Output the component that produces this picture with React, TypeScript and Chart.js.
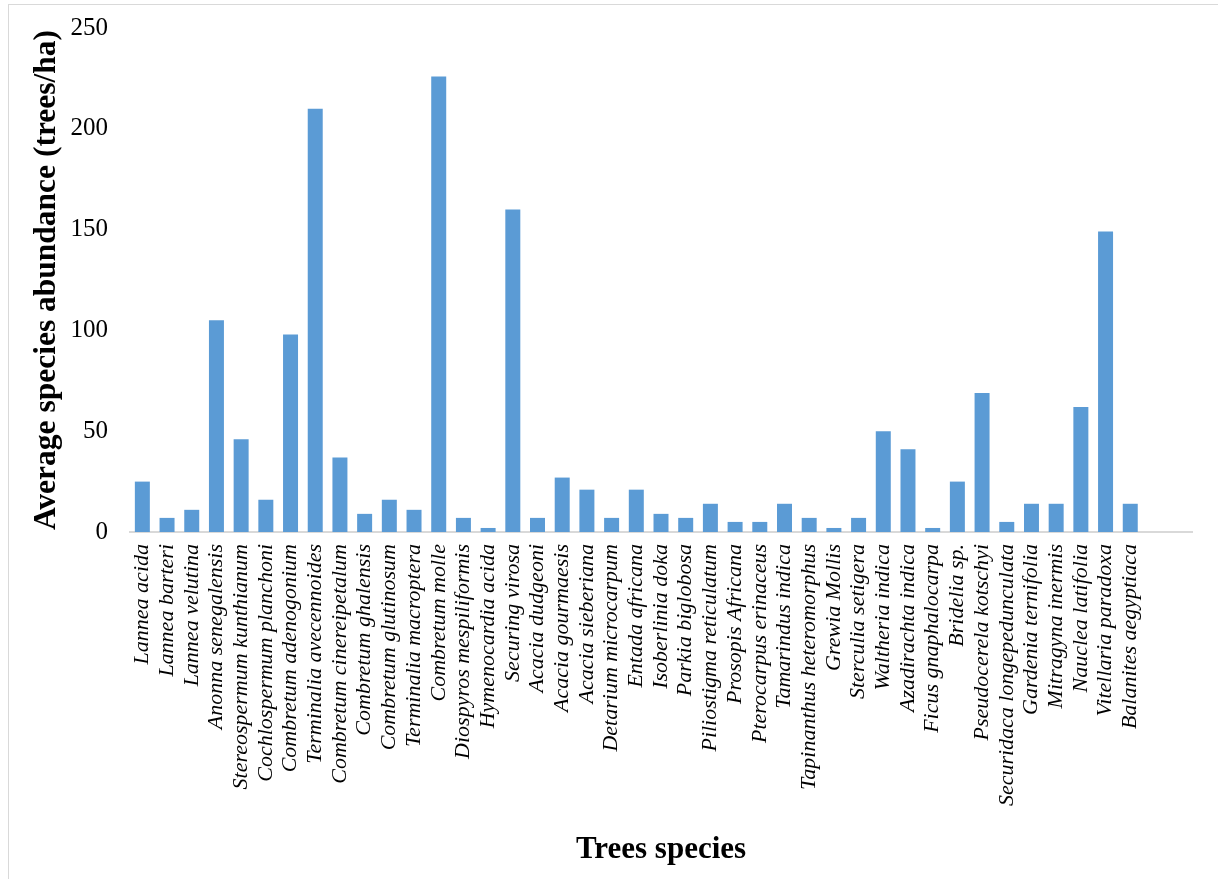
import React, { useEffect, useRef } from "react";
import { Chart, registerables } from "chart.js";

Chart.register(...registerables);

// Tree species surveyed (two trailing empty slots keep the category axis width)
const species: string[] = [
  "Lannea acida",
  "Lannea barteri",
  "Lannea velutina",
  "Anonna senegalensis",
  "Stereospermum kunthianum",
  "Cochlospermum planchoni",
  "Combretum adenogonium",
  "Terminalia avecennoides",
  "Combretum cinereipetalum",
  "Combretum ghalensis",
  "Combretum glutinosum",
  "Terminalia macroptera",
  "Combretum molle",
  "Diospyros mespiliformis",
  "Hymenocardia acida",
  "Securing virosa",
  "Acacia dudgeoni",
  "Acacia gourmaesis",
  "Acacia sieberiana",
  "Detarium microcarpum",
  "Entada africana",
  "Isoberlinia doka",
  "Parkia biglobosa",
  "Piliostigma reticulatum",
  "Prosopis Africana",
  "Pterocarpus erinaceus",
  "Tamarindus indica",
  "Tapinanthus heteromorphus",
  "Grewia Mollis",
  "Sterculia setigera",
  "Waltheria indica",
  "Azadirachta indica",
  "Ficus gnaphalocarpa",
  "Bridelia sp.",
  "Pseudocerela kotschyi",
  "Securidaca longepedunculata",
  "Gardenia ternifolia",
  "Mitragyna inermis",
  "Nauclea latifolia",
  "Vitellaria paradoxa",
  "Balanites aegyptiaca",
  "",
  "",
];

// Average abundance, trees per hectare
const abundance: (number | null)[] = [
  25, 7, 11, 105, 46, 16, 98, 210, 37, 9, 16, 11, 226, 7, 2, 160, 7, 27, 21, 7,
  21, 9, 7, 14, 5, 5, 14, 7, 2, 7, 50, 41, 2, 25, 69, 5, 14, 14, 62, 149, 14,
  null, null,
];

const yTicks: number[] = [0, 50, 100, 150, 200, 250];

const SERIF = "'Liberation Serif', 'Times New Roman', serif";
const W = 1218;
const H = 879;

export default function App() {
  const canvasRef = useRef<HTMLCanvasElement | null>(null);

  useEffect(() => {
    const canvas = canvasRef.current;
    if (!canvas) return;
    const chart = new Chart(canvas, {
      type: "bar",
      data: {
        labels: species,
        datasets: [
          {
            label: "Average species abundance",
            data: abundance,
            backgroundColor: "#5b9bd5",
            borderWidth: 0,
            barPercentage: 0.607,
            categoryPercentage: 1,
          },
        ],
      },
      options: {
        responsive: false,
        animation: false,
        devicePixelRatio: 1,
        layout: { padding: { top: 28, right: 26, bottom: 0, left: 0 } },
        plugins: {
          legend: { display: false },
          tooltip: { enabled: false },
        },
        scales: {
          x: {
            grid: { display: false, drawTicks: false },
            border: { display: true, color: "#d9d9d9", width: 2 },
            ticks: {
              autoSkip: false,
              minRotation: 90,
              maxRotation: 90,
              padding: 12,
              color: "#000",
              font: { family: SERIF, size: 22, style: "italic" },
            },
            title: {
              display: true,
              text: "Trees species",
              color: "#000",
              font: { family: SERIF, size: 31, weight: "bold" },
              padding: { top: 0, bottom: 10 },
            },
            afterFit: (s: any) => {
              s.height = H - 532;
              s.paddingLeft = 0;
              s.paddingRight = 0;
            },
          },
          y: {
            min: 0,
            max: 250,
            afterBuildTicks: (s: any) => {
              s.ticks = yTicks.map((v) => ({ value: v }));
            },
            grid: { display: false, drawTicks: false },
            border: { display: false },
            ticks: {
              padding: 22,
              color: "#000",
              font: { family: SERIF, size: 25 },
            },
            title: {
              display: true,
              text: "Average species abundance (trees/ha)",
              color: "#000",
              font: { family: SERIF, size: 31.5, weight: "bold" },
              padding: { top: 28, bottom: 0 },
            },
            afterFit: (s: any) => {
              s.width = 130;
              s.paddingTop = 0;
              s.paddingBottom = 0;
            },
          },
        },
      },
    });
    return () => chart.destroy();
  }, []);

  return (
    <div
      style={{
        position: "fixed",
        left: 0,
        top: 0,
        width: W,
        height: H,
        overflow: "hidden",
        background: "#fff",
      }}
    >
      <div
        style={{
          position: "absolute",
          left: 8,
          top: 4,
          width: W + 40,
          height: H + 40,
          border: "1px solid #d9d9d9",
          boxSizing: "border-box",
        }}
      />
      <canvas
        ref={canvasRef}
        width={W}
        height={H}
        style={{ position: "absolute", left: 0, top: 0, width: W, height: H }}
      />
    </div>
  );
}
